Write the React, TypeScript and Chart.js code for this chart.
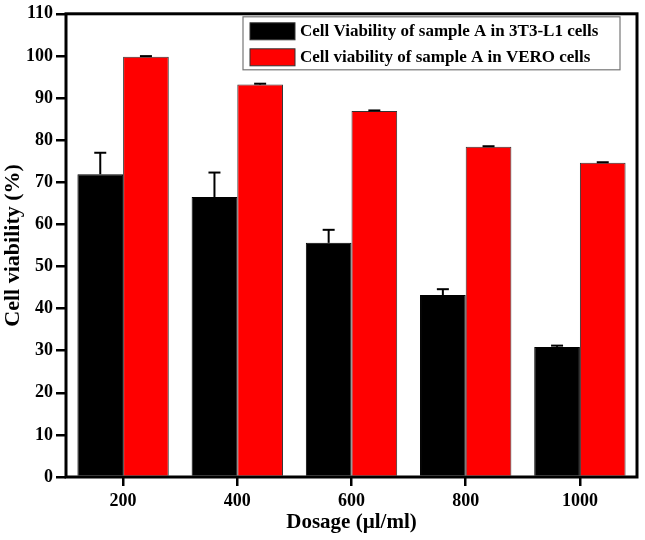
import React, { useEffect, useRef } from "react";
import { Chart, registerables } from "chart.js";

Chart.register(...registerables);

const categories = ["200", "400", "600", "800", "1000"];
const seriesLabels = [
  "Cell Viability of sample A in 3T3-L1 cells",
  "Cell viability of sample A in VERO cells",
];
const viability3T3 = [71.9, 66.5, 55.6, 43.2, 30.9];
const error3T3 = [5.1, 5.8, 3.1, 1.4, 0.3];
const viabilityVero = [99.8, 93.2, 86.9, 78.4, 74.6];
const errorVero = [0.15, 0.2, 0.15, 0.15, 0.15];
const yTicks = [0, 10, 20, 30, 40, 50, 60, 70, 80, 90, 100, 110];

const FONT = "'Liberation Serif', 'Times New Roman', serif";

const framePlugin = {
  id: "frameErrLegend",
  afterDatasetsDraw(chart: any) {
    const { ctx, chartArea } = chart;
    const yScale = chart.scales.y;
    ctx.save();
    // error bars
    chart.data.datasets.forEach((ds: any, i: number) => {
      const meta = chart.getDatasetMeta(i);
      const errs: number[] = ds.errors || [];
      meta.data.forEach((el: any, j: number) => {
        const v = ds.data[j];
        const e = errs[j] || 0;
        const yTop = yScale.getPixelForValue(v + e);
        ctx.strokeStyle = "#000";
        ctx.lineWidth = 2;
        ctx.beginPath();
        ctx.moveTo(el.x, el.y);
        ctx.lineTo(el.x, yTop);
        ctx.stroke();
        ctx.beginPath();
        ctx.moveTo(el.x - 6, yTop);
        ctx.lineTo(el.x + 6, yTop);
        ctx.stroke();
      });
    });
    // frame
    ctx.strokeStyle = "#000";
    ctx.lineWidth = 3;
    ctx.strokeRect(
      chartArea.left,
      chartArea.top,
      chartArea.right - chartArea.left,
      chartArea.bottom - chartArea.top
    );
    // legend
    const bx = chartArea.right - 394;
    const by = chartArea.top + 3;
    const bw = 377;
    const bh = 53;
    ctx.fillStyle = "#fff";
    ctx.fillRect(bx, by, bw, bh);
    ctx.strokeStyle = "#777";
    ctx.lineWidth = 1.2;
    ctx.strokeRect(bx, by, bw, bh);
    ctx.font = `bold 17px ${FONT}`;
    ctx.textBaseline = "middle";
    ctx.textAlign = "left";
    chart.data.datasets.forEach((ds: any, i: number) => {
      const sy = by + 6 + i * 26;
      ctx.fillStyle = ds.backgroundColor;
      ctx.fillRect(bx + 7, sy, 45, 17);
      ctx.strokeStyle = "#333";
      ctx.lineWidth = 1;
      ctx.strokeRect(bx + 7, sy, 45, 17);
      ctx.fillStyle = "#000";
      ctx.fillText(ds.label, bx + 57, sy + 9);
    });
    ctx.restore();
  },
};

export default function App() {
  const ref = useRef<HTMLCanvasElement | null>(null);
  useEffect(() => {
    if (!ref.current) return;
    const chart = new Chart(ref.current, {
      type: "bar",
      data: {
        labels: categories,
        datasets: [
          {
            label: seriesLabels[0],
            data: viability3T3,
            errors: error3T3,
            backgroundColor: "#000000",
            borderColor: "#000000",
            borderWidth: 1,
            categoryPercentage: 0.8,
            barPercentage: 1.0,
          } as any,
          {
            label: seriesLabels[1],
            data: viabilityVero,
            errors: errorVero,
            backgroundColor: "#ff0000",
            borderColor: "#333333",
            borderWidth: 1,
            categoryPercentage: 0.8,
            barPercentage: 1.0,
          } as any,
        ],
      },
      options: {
        responsive: false,
        animation: false,
        layout: { padding: { top: 11, right: 8, left: 0, bottom: 0 } },
        plugins: {
          legend: { display: false },
          tooltip: { enabled: false },
        },
        scales: {
          x: {
            offset: true,
            grid: {
              offset: false,
              drawOnChartArea: false,
              drawTicks: true,
              tickLength: 9,
              lineWidth: 2.5,
              color: "#000",
            },
            border: { display: false },
            ticks: {
              color: "#000",
              font: { family: FONT, size: 18, weight: "bold" },
              padding: 5,
              maxRotation: 0,
            },
            title: {
              display: true,
              text: "Dosage (\u00b5l/ml)",
              color: "#000",
              font: { family: FONT, size: 21, weight: "bold", lineHeight: 1.2 },
              padding: { top: 0, bottom: 5 },
            },
            afterFit: (s: any) => {
              s.height = 63;
            },
          },
          y: {
            min: 0,
            max: 110,
            afterBuildTicks: (s: any) => {
              s.ticks = yTicks.map((v) => ({ value: v }));
            },
            grid: {
              drawOnChartArea: false,
              drawTicks: true,
              tickLength: 10,
              lineWidth: 2.5,
              color: "#000",
            },
            border: { display: false },
            ticks: {
              color: "#000",
              font: { family: FONT, size: 18, weight: "bold" },
              padding: 3,
            },
            title: {
              display: true,
              text: "Cell viability (%)",
              color: "#000",
              font: { family: FONT, size: 22, weight: "bold", lineHeight: 1.2 },
              padding: { top: 0, bottom: 0 },
            },
            afterFit: (s: any) => {
              s.width = 66;
            },
          },
        },
      } as any,
      plugins: [framePlugin],
    });
    return () => chart.destroy();
  }, []);
  return (
    <div style={{ position: "absolute", left: 0, top: 0, width: 645, height: 540, background: "#fff" }}>
      <canvas ref={ref} width={645} height={540} />
    </div>
  );
}
